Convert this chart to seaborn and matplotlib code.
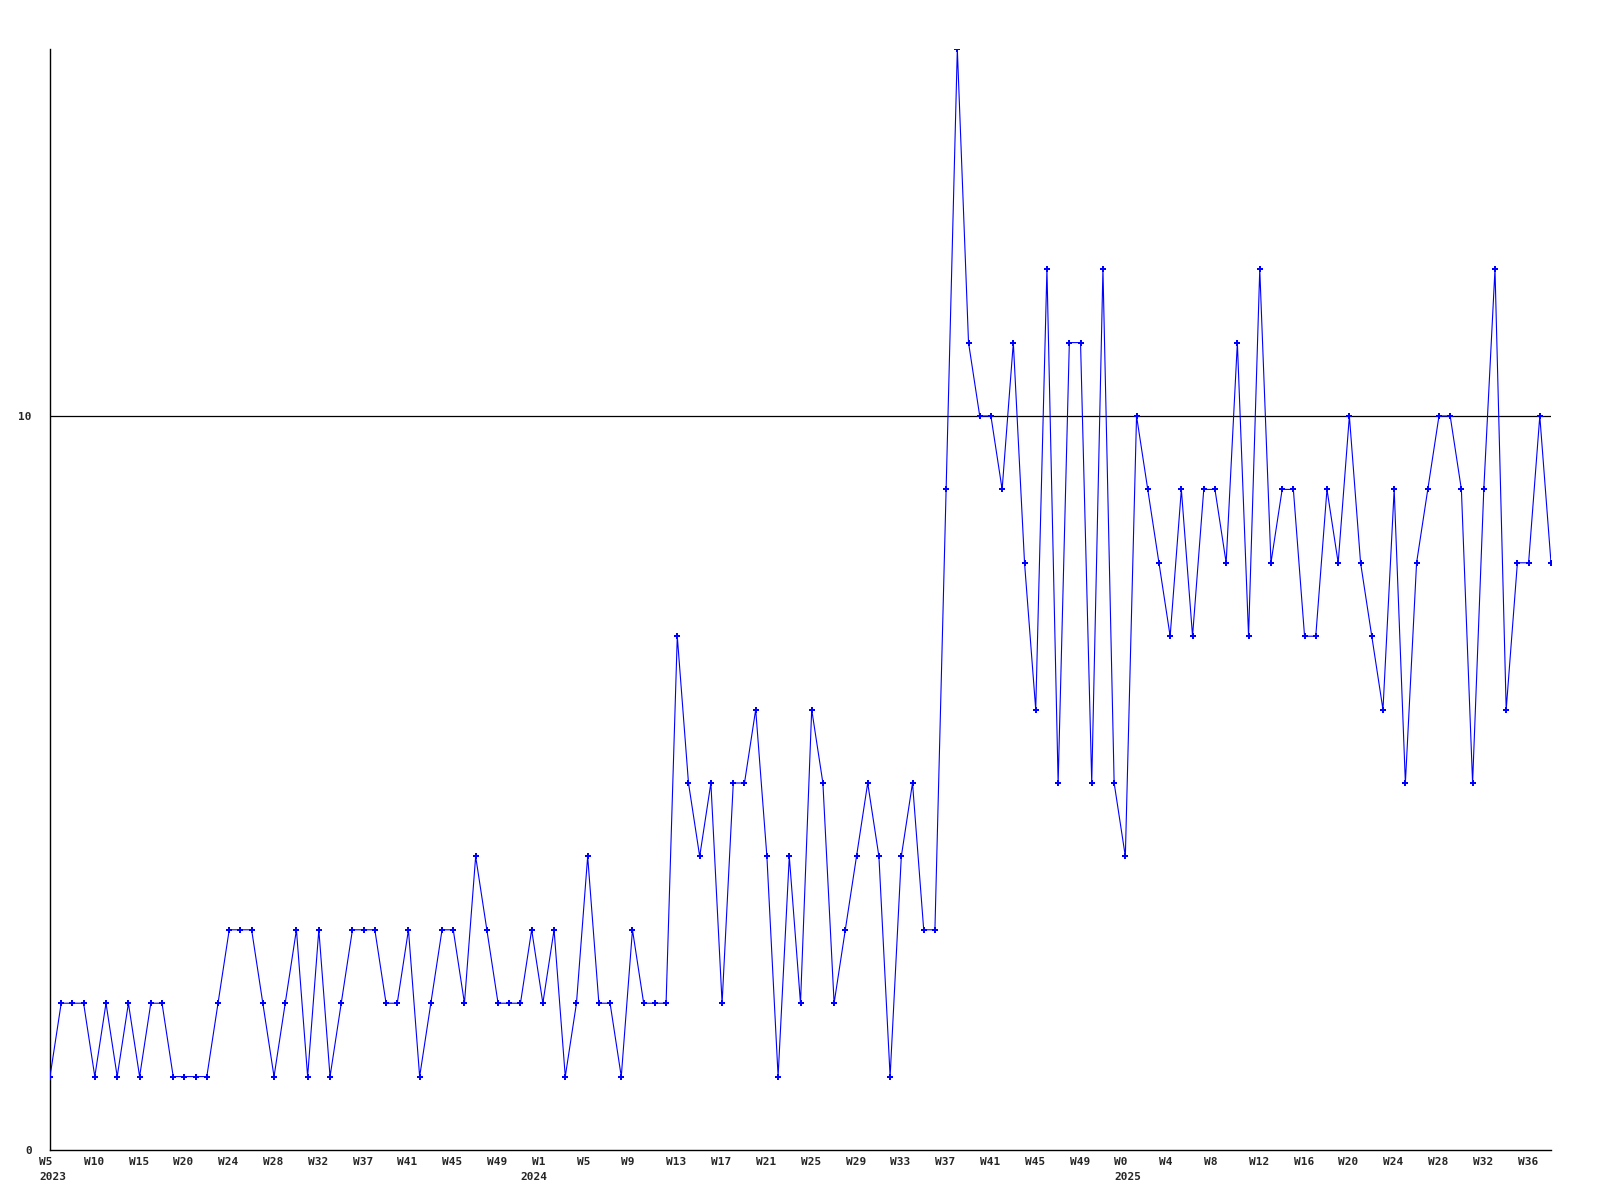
import matplotlib
matplotlib.use("Agg")
import matplotlib.pyplot as plt
import matplotlib.transforms as mtransforms
import seaborn as sns
import numpy as np
import pandas as pd

# weekly counts, W5 2023 .. W38 2025
values = [1, 2, 2, 2, 1, 2, 1, 2, 1, 2, 2, 1, 1, 1, 1, 2, 3, 3, 3, 2,
          1, 2, 3, 1, 3, 1, 2, 3, 3, 3, 2, 2, 3, 1, 2, 3, 3, 2, 4, 3,
          2, 2, 2, 3, 2, 3, 1, 2, 4, 2, 2, 1, 3, 2, 2, 2, 7, 5, 4, 5,
          2, 5, 5, 6, 4, 1, 4, 2, 6, 5, 2, 3, 4, 5, 4, 1, 4, 5, 3, 3,
          9, 15, 11, 10, 10, 9, 11, 8, 6, 12, 5, 11, 11, 5, 12, 5, 4, 10, 9, 8,
          7, 9, 7, 9, 9, 8, 11, 7, 12, 8, 9, 9, 7, 7, 9, 8, 10, 8, 7, 6,
          9, 5, 8, 9, 10, 10, 9, 5, 9, 12, 6, 8, 8, 10, 8]

week_labels = ['W5', 'W10', 'W15', 'W20', 'W24', 'W28', 'W32', 'W37', 'W41', 'W45', 'W49',
               'W1', 'W5', 'W9', 'W13', 'W17', 'W21', 'W25', 'W29', 'W33', 'W37', 'W41', 'W45', 'W49',
               'W0', 'W4', 'W8', 'W12', 'W16', 'W20', 'W24', 'W28', 'W32', 'W36']
years = ['2023', '2024', '2025']
year_label_idx = [0, 11, 24]
y_ticks = [0, 10]

df = pd.DataFrame({'week': np.arange(len(values)), 'count': values})

sns.set_style("white")
plt.rcParams['font.family'] = ['DejaVu Sans Mono']

fig = plt.figure(figsize=(16, 12), dpi=100)
ax = fig.add_axes([50 / 1600, 50 / 1200, 1501 / 1600, 1101 / 1200])

ax.axhline(10, color='black', linewidth=0.9, zorder=1)
sns.lineplot(data=df, x='week', y='count', ax=ax, color='#0000ff',
             linewidth=0.8, marker='P', markersize=5, markeredgewidth=0,
             zorder=3)

ax.set_xlim(0, len(values) - 1)
ax.set_ylim(0, 15)
ax.set_xticks([])

# week labels every 4th point, left-aligned a little left of the point
base = mtransforms.blended_transform_factory(ax.transData, ax.transAxes)
week_tr = base + mtransforms.ScaledTranslation(-11 / 100, -7 / 100, fig.dpi_scale_trans)
for i, w in enumerate(week_labels):
    ax.text(i * 4, 0, w, transform=week_tr, ha='left', va='top',
            fontsize=8, fontweight='bold', clip_on=False)

for y, i in zip(years, year_label_idx):
    dx = -22 if y == '2024' else -11
    year_tr = base + mtransforms.ScaledTranslation(dx / 100, -22 / 100, fig.dpi_scale_trans)
    ax.text(i * 4, 0, y, transform=year_tr, ha='left', va='top',
            fontsize=8, fontweight='bold', clip_on=False)

ax.set_yticks(y_ticks)
ax.set_yticklabels([str(t) for t in y_ticks], fontsize=8, fontweight='bold')
ax.tick_params(axis='y', length=0, pad=13)

ax.set_xlabel('')
ax.set_ylabel('')
for side in ['top', 'right']:
    ax.spines[side].set_visible(False)
for side in ['left', 'bottom']:
    ax.spines[side].set_color('black')
    ax.spines[side].set_linewidth(1.0)
ax.grid(False)

fig.savefig('out.png', dpi=100, facecolor='white')
